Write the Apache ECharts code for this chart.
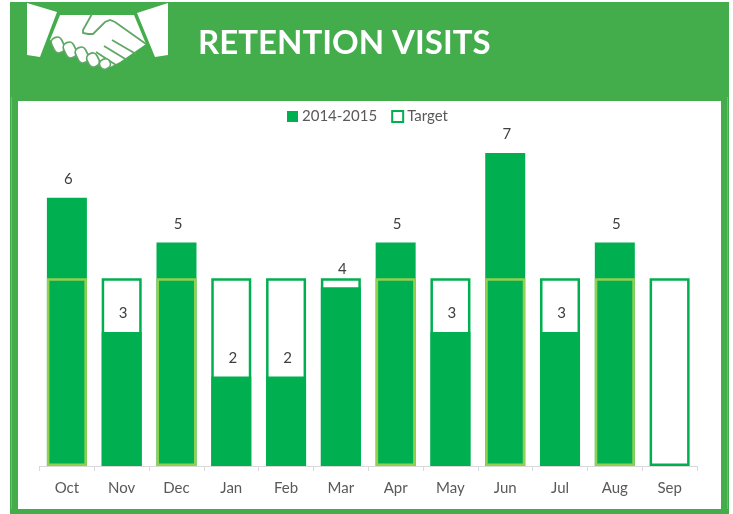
<!DOCTYPE html>
<html><head><meta charset="utf-8">
<style>html,body{margin:0;padding:0;background:#fff}#c{width:733px;height:514px}</style>
<script src="https://cdn.jsdelivr.net/npm/echarts@6/dist/echarts.min.js"></script>
</head><body><div id="c"></div>
<script>
const months = ['Oct','Nov','Dec','Jan','Feb','Mar','Apr','May','Jun','Jul','Aug','Sep'];
const visits = [6,3,5,2,2,4,5,3,7,3,5,0];
const target = [4.2,4.2,4.2,4.2,4.2,4.2,4.2,4.2,4.2,4.2,4.2,4.2];
const seriesNames = ['2014-2015','Target'];
const titleText = 'RETENTION VISITS';

const GREEN='#00B050', LIME='#92D050', FRAME='#43AC4B', INK='#5FA765';
const chart = echarts.init(document.getElementById('c'));
const fingers = [[58,45,8],[70,50,8],[82,55,8],[93,60,7],[105,64,5]].map(p=>({
  type:'rect', x:p[0], y:p[1], originX:0, originY:0, rotation:0.45,
  shape:{x:-5.5,y:-p[2],width:11,height:p[2]*2,r:5},
  style:{fill:'#fff',stroke:INK,lineWidth:1.8}
}));
const strokes = [
 [[92,14],[83,30],[83,33],[88,34],[93,34],[105,22],[110,20],[115,22],[146,44]],
 [[104,46],[127,60]],[[112,40],[136,54]],[[96,52],[116,65]]
].map(pts=>({type:'polyline',shape:{points:pts},style:{fill:null,stroke:INK,lineWidth:1.8}}));
chart.setOption({
  animation:false,
  textStyle:{fontFamily:'Lato'},
  title:{text:titleText,left:198,top:23,padding:0,
    textStyle:{color:'#fff',fontSize:33,fontWeight:'bold',fontFamily:'Lato',lineHeight:40}},
  legend:{left:282,top:104,itemWidth:11,itemHeight:11,itemGap:14,
    textStyle:{color:'#595959',fontSize:15,fontFamily:'Lato',padding:[0,0,0,-1]},
    data:[{name:seriesNames[0],icon:'rect'},{name:seriesNames[1],icon:'rect'}]},
  grid:{left:39.5,right:36,top:108.4,height:357.6},
  xAxis:{type:'category',data:months,
    axisLine:{lineStyle:{color:'#D9D9D9',width:1}},
    axisTick:{show:true,length:5,lineStyle:{color:'#D9D9D9'}},
    axisLabel:{color:'#595959',fontSize:15,margin:15,fontFamily:'Lato'}},
  yAxis:{type:'value',min:0,max:8,show:false},
  graphic:[
    {type:'rect',z:-5,shape:{x:10,y:2,width:719,height:512},style:{fill:FRAME}},
    {type:'rect',z:-4,shape:{x:18,y:101,width:703,height:408},style:{fill:'#fff'}},
    {type:'rect',z:-4,shape:{x:11,y:97,width:1,height:412},style:{fill:'#6DBE74'}},
    {type:'rect',z:-4,shape:{x:727,y:97,width:1,height:412},style:{fill:'#6DBE74'}},
    {type:'group',z:-3,children:[
      {type:'polygon',shape:{points:[[27,3],[57,12],[40,57],[27,55]]},style:{fill:'#fff'}},
      {type:'polygon',shape:{points:[[168,3],[137,13],[155,57],[168,55]]},style:{fill:'#fff'}},
      {type:'polygon',shape:{points:[[60,15],[134,15],[146,44],[120,62],[108,68],[100,66],[50,40]]},style:{fill:'#fff'}},
      ...strokes,...fingers
    ]}
  ],
  series:[
    {name:seriesNames[0],type:'bar',data:visits,barWidth:40,barGap:'-100%',z:2,
      itemStyle:{color:GREEN},
      label:{show:true,position:'top',distance:11,offset:[1.5,0],color:'#404040',fontSize:15,fontFamily:'Lato',
        formatter:p=>p.value>0?String(p.value):''}},
    {name:seriesNames[1],type:'bar',barWidth:40,z:3,
      itemStyle:{color:'rgba(255,255,255,0)',borderColor:GREEN,borderWidth:2.5},
      data:target.map((t,i)=>({value:t,itemStyle:{
        color:'rgba(255,255,255,0)',
        borderColor:visits[i]>=t?LIME:GREEN,borderWidth:2.5}}))}
  ]
});
</script></body></html>
